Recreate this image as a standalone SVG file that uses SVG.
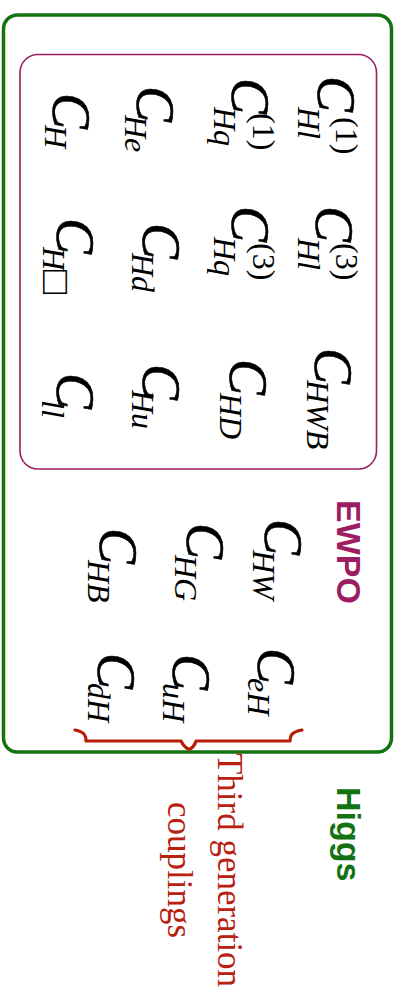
<svg xmlns="http://www.w3.org/2000/svg" width="397" height="992" viewBox="0 0 397 992">
  <style>
    .c { font-family: "Liberation Serif", "Times New Roman", serif; font-style: italic; font-size: 54px; fill: #000; stroke: #000; stroke-width: 0.6px; }
    .s { font-family: "Liberation Serif", "Times New Roman", serif; font-style: italic; font-size: 32px; fill: #000; }
    .p { font-family: "Liberation Serif", "Times New Roman", serif; font-style: normal; font-size: 32px; fill: #000; }
    .box { font-family: "Liberation Serif", "DejaVu Sans", serif; font-style: normal; }
    .tag { font-family: "Liberation Sans", Arial, sans-serif; font-weight: bold; font-size: 34px; }
    .note { font-family: "Liberation Serif", "Times New Roman", serif; font-size: 35px; fill: #b8200f; text-anchor: middle; }
  </style>
  <rect width="397" height="992" fill="#fff"/>
  <!-- whole figure is laid out landscape and turned a quarter clockwise -->
  <g transform="translate(397,0) rotate(90)">
    <g id="higgs-box">
      <rect x="15" y="5.5" width="737" height="388" rx="14" fill="none" stroke="#137313" stroke-width="3.5"/>
      <text class="tag" x="787" y="60" fill="#137313">Higgs</text>
    </g>
    <g id="ewpo-box">
      <rect x="54.5" y="20.5" width="414.5" height="356.5" rx="18" fill="none" stroke="#9c1d62" stroke-width="1.6"/>
      <text class="tag" x="500" y="60" fill="#9c1d62">EWPO</text>
    </g>

    <!-- operators inside the EWPO box -->
    <g id="C_Hl1"><text><tspan class="c" x="76" y="79">C</tspan><tspan class="p" x="117" y="61">(1)</tspan><tspan class="s" x="107" y="99">Hl</tspan></text></g>
    <g id="C_Hl3"><text><tspan class="c" x="206" y="81">C</tspan><tspan class="p" x="243" y="61">(3)</tspan><tspan class="s" x="238" y="99">Hl</tspan></text></g>
    <g id="C_HWB"><text><tspan class="c" x="348" y="82">C</tspan><tspan class="s" x="380" y="90">HWB</tspan></text></g>

    <g id="C_Hq1"><text><tspan class="c" x="78" y="165">C</tspan><tspan class="p" x="113" y="144">(1)</tspan><tspan class="s" x="107" y="183">Hq</tspan></text></g>
    <g id="C_Hq3"><text><tspan class="c" x="206" y="165">C</tspan><tspan class="p" x="243" y="144">(3)</tspan><tspan class="s" x="237" y="183">Hq</tspan></text></g>
    <g id="C_HD"><text><tspan class="c" x="359" y="167">C</tspan><tspan class="s" x="393" y="177">HD</tspan></text></g>

    <g id="C_He"><text><tspan class="c" x="86" y="260">C</tspan><tspan class="s" x="115" y="272">He</tspan></text></g>
    <g id="C_Hd"><text><tspan class="c" x="223" y="254">C</tspan><tspan class="s" x="253" y="265">Hd</tspan></text></g>
    <g id="C_Hu"><text><tspan class="c" x="364" y="254">C</tspan><tspan class="s" x="390" y="265">Hu</tspan></text></g>

    <g id="C_H"><text><tspan class="c" x="93" y="344">C</tspan><tspan class="s" x="125" y="352">H</tspan></text></g>
    <g id="C_HBox"><text><tspan class="c" x="218" y="340">C</tspan><tspan class="s" x="247" y="354">H</tspan><tspan class="box" font-size="40" x="270" y="354">□</tspan></text></g>
    <g id="C_ll"><text><tspan class="c" x="373" y="340">C</tspan><tspan class="s" x="400" y="355">ll</tspan></text></g>

    <!-- Higgs-only operators -->
    <g id="C_HW"><text><tspan class="c" x="519" y="132">C</tspan><tspan class="s" x="550" y="144">HW</tspan></text></g>
    <g id="C_HG"><text><tspan class="c" x="523" y="210">C</tspan><tspan class="s" x="555" y="222">HG</tspan></text></g>
    <g id="C_HB"><text><tspan class="c" x="528" y="297">C</tspan><tspan class="s" x="560" y="309">HB</tspan></text></g>

    <g id="C_eH"><text><tspan class="c" x="648" y="139">C</tspan><tspan class="s" x="678" y="149">eH</tspan></text></g>
    <g id="C_uH"><text><tspan class="c" x="654" y="224">C</tspan><tspan class="s" x="683" y="234">uH</tspan></text></g>
    <g id="C_dH"><text><tspan class="c" x="653" y="299">C</tspan><tspan class="s" x="683" y="309">dH</tspan></text></g>

    <!-- brace grouping the Yukawa-type operators -->
    <g id="brace">
      <path d="M730,322 C732,312 736,311 741,311 L741,216 C745,214 748,211 749,208.5 C750,206 745,202 741,201 L741,107 C736,107 732,106 730,95" fill="none" stroke="#b51d05" stroke-width="3.2" stroke-linecap="round" stroke-linejoin="round"/>
      <text class="note" x="870" y="179">Third generation</text>
      <text class="note" x="870" y="229">couplings</text>
    </g>
  </g>
</svg>
